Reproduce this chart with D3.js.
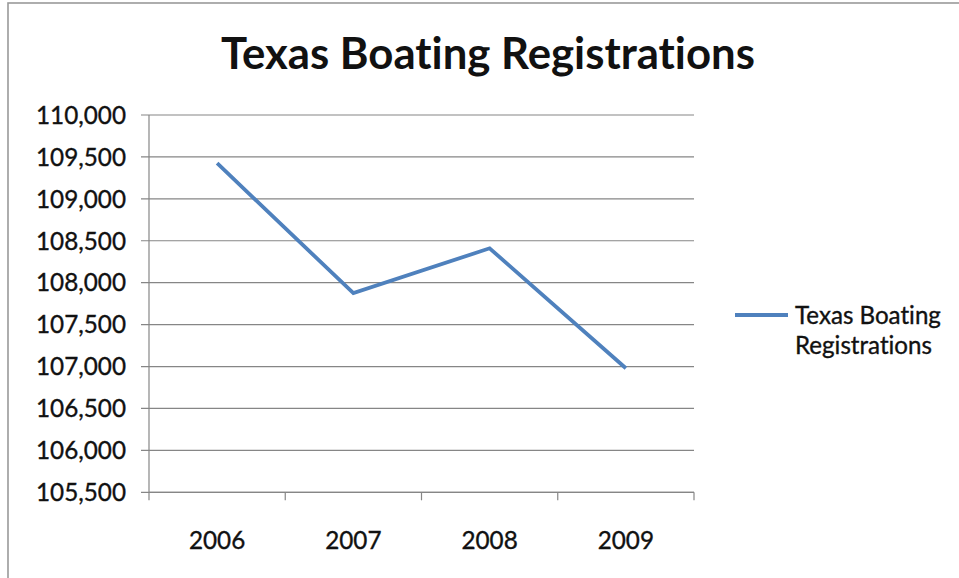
<!DOCTYPE html>
<html>
<head>
<meta charset="utf-8">
<script src="https://cdn.jsdelivr.net/npm/d3@7"></script>
<style>
  html, body { margin: 0; padding: 0; background: #fff; }
  svg { display: block; }
  text { font-family: Lato, "Open Sans", sans-serif; fill: #111; font-variant-ligatures: none; font-feature-settings: "liga" 0, "clig" 0; }
  text.lbl { stroke: #111; stroke-width: 0.35px; }
</style>
</head>
<body>
<svg id="chart" width="959" height="578"></svg>
<script>
const title = "Texas Boating Registrations";
const seriesName = "Texas Boating Registrations";
const legendLines = ["Texas Boating", "Registrations"];
const categories = ["2006", "2007", "2008", "2009"];
const values = [109425, 107875, 108410, 106980];
const yTicks = [105500, 106000, 106500, 107000, 107500, 108000, 108500, 109000, 109500, 110000];

const svg = d3.select("#chart");
const W = 959, H = 578;

// outer chart border
svg.append("rect")
  .attr("x", 8).attr("y", 3).attr("width", W + 10).attr("height", H + 10)
  .attr("fill", "#fff").attr("stroke", "#9a9a9a").attr("stroke-width", 1.6);

// helper: fit font size to a target width
function fitSize(sel, text, targetWidth, weight) {
  const t = svg.append("text").attr("font-size", 20).attr("font-weight", weight || "normal").text(text);
  const w = t.node().getComputedTextLength();
  t.remove();
  return 20 * targetWidth / w;
}

const plot = { left: 149, right: 694, top: 115, bottom: 492.3 };

const x = d3.scaleBand().domain(categories).range([plot.left, plot.right]);
const y = d3.scaleLinear().domain([105500, 110000]).range([plot.bottom, plot.top]);

// gridlines
svg.append("g").selectAll("line").data(yTicks).join("line")
  .attr("x1", plot.left - 8).attr("x2", plot.right)
  .attr("y1", d => y(d)).attr("y2", d => y(d))
  .attr("stroke", "#868686").attr("stroke-width", 1.2);

// y axis line
svg.append("line")
  .attr("x1", plot.left).attr("x2", plot.left)
  .attr("y1", plot.top).attr("y2", plot.bottom)
  .attr("stroke", "#868686").attr("stroke-width", 1.2);

// x axis with ticks at band boundaries
const xAxisG = svg.append("g");
xAxisG.append("line")
  .attr("x1", plot.left).attr("x2", plot.right)
  .attr("y1", plot.bottom).attr("y2", plot.bottom)
  .attr("stroke", "#868686").attr("stroke-width", 1.2);
const bounds = categories.map(c => x(c)).concat([x(categories[categories.length - 1]) + x.bandwidth()]);
xAxisG.selectAll("line.tick").data(bounds).join("line").attr("class", "tick")
  .attr("x1", d => d).attr("x2", d => d)
  .attr("y1", plot.bottom).attr("y2", plot.bottom + 8)
  .attr("stroke", "#868686").attr("stroke-width", 1.2);

// tick label font size
const fmt = d3.format(",");
const tickSize = fitSize(svg, "110,000", 90);
svg.append("g").selectAll("text").data(yTicks).join("text")
  .attr("class", "lbl")
  .attr("x", 126).attr("y", d => y(d)).attr("dy", "0.36em")
  .attr("text-anchor", "end").attr("font-size", tickSize)
  .text(d => fmt(d));

svg.append("g").selectAll("text").data(categories).join("text")
  .attr("class", "lbl")
  .attr("x", d => x(d) + x.bandwidth() / 2).attr("y", 540).attr("dy", "0.36em")
  .attr("text-anchor", "middle").attr("font-size", tickSize)
  .text(d => d);

// line series
const line = d3.line()
  .x((d, i) => x(categories[i]) + x.bandwidth() / 2)
  .y(d => y(d));
svg.append("path").datum(values)
  .attr("d", line)
  .attr("fill", "none").attr("stroke", "#4F81BD").attr("stroke-width", 3.8)
  .attr("stroke-linejoin", "miter").attr("stroke-linecap", "butt");

// title
const titleSize = fitSize(svg, title, 534, "bold");
svg.append("text")
  .attr("x", 221).attr("y", 69).attr("font-size", titleSize).attr("font-weight", "bold")
  .text(title);

// legend
svg.append("line")
  .attr("x1", 735).attr("x2", 788).attr("y1", 315).attr("y2", 315)
  .attr("stroke", "#4F81BD").attr("stroke-width", 3.8);
const legSize = fitSize(svg, legendLines[0], 146);
svg.append("g").selectAll("text").data(legendLines).join("text")
  .attr("class", "lbl")
  .attr("x", 795).attr("y", (d, i) => 323.5 + i * 30)
  .attr("font-size", legSize)
  .text(d => d);
</script>
</body>
</html>
